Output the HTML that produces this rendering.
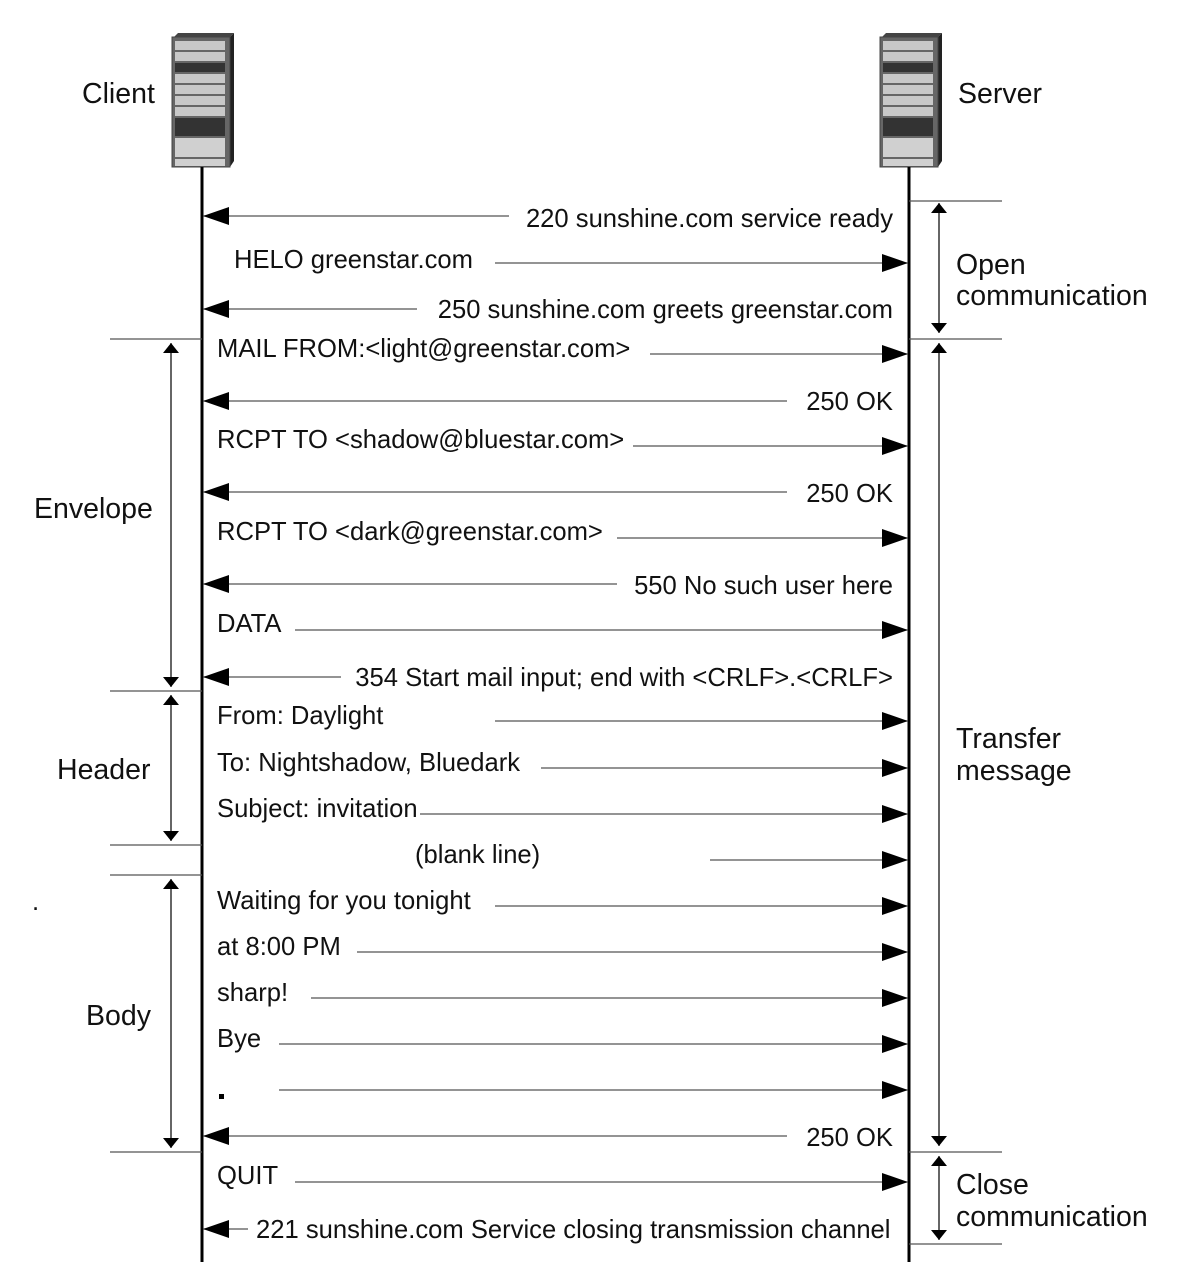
<!DOCTYPE html>
<html><head><meta charset="utf-8"><style>
html,body{margin:0;padding:0;background:#fff;}
svg{display:block;}
text{font-family:"Liberation Sans",Arial,sans-serif;fill:#111;}
.m{font-size:25.6px;}
.l{font-size:28.5px;}
</style></head><body>
<svg width="1184" height="1276" viewBox="0 0 1184 1276" xmlns="http://www.w3.org/2000/svg">
<defs>
<g id="srv">
<polygon points="0,6 6,0 62,0 58,4" fill="#444"/>
<polygon points="58,4 62,0 62,128 58,134" fill="#222"/>
<rect x="0" y="4" width="58" height="130" fill="#666" stroke="#444"/>
<rect x="3" y="8" width="50" height="9" fill="#c8c8c8"/>
<rect x="3" y="19" width="50" height="9" fill="#c8c8c8"/>
<rect x="3" y="30" width="50" height="9" fill="#333"/>
<rect x="3" y="41" width="50" height="9" fill="#c8c8c8"/>
<rect x="3" y="52" width="50" height="9" fill="#c8c8c8"/>
<rect x="3" y="63" width="50" height="9" fill="#c8c8c8"/>
<rect x="3" y="74" width="50" height="9" fill="#c8c8c8"/>
<rect x="3" y="85" width="50" height="18" fill="#333"/>
<rect x="3" y="105" width="50" height="19" fill="#d0d0d0"/>
<rect x="3" y="126" width="50" height="7" fill="#d0d0d0"/>
</g>
<marker id="a" viewBox="0 0 26 18" markerWidth="26" markerHeight="18" refX="26" refY="9" orient="auto" markerUnits="userSpaceOnUse"><path d="M0,0 L26,9 L0,18 Z" fill="#000"/></marker>
<marker id="s" viewBox="0 0 10 16" markerWidth="10" markerHeight="16" refX="10" refY="8" orient="auto-start-reverse" markerUnits="userSpaceOnUse"><path d="M0,0 L10,8 L0,16 Z" fill="#000"/></marker>
</defs>
<use href="#srv" x="172" y="33"/>
<use href="#srv" x="880" y="33"/>
<line x1="202" y1="167" x2="202" y2="1262" stroke="#000" stroke-width="3"/>
<line x1="909" y1="167" x2="909" y2="1262" stroke="#000" stroke-width="3"/>
<text class="l" x="82" y="103">Client</text>
<text class="l" x="958" y="103">Server</text>
<text class="l" x="956" y="274">Open</text><text class="l" x="956" y="305">communication</text>
<text class="l" x="956" y="748">Transfer</text><text class="l" x="956" y="780">message</text>
<text class="l" x="956" y="1194">Close</text><text class="l" x="956" y="1226">communication</text>
<text class="l" x="34" y="518">Envelope</text>
<text class="l" x="57" y="779">Header</text>
<text class="l" x="86" y="1025">Body</text>
<text class="m" x="32" y="910">.</text>
<g stroke="#555" stroke-width="1.2">
<line x1="909" y1="201" x2="1002" y2="201"/><line x1="909" y1="339" x2="1002" y2="339"/>
<line x1="909" y1="1152" x2="1002" y2="1152"/><line x1="909" y1="1244" x2="1002" y2="1244"/>
<line x1="110" y1="339" x2="202" y2="339"/><line x1="110" y1="691" x2="202" y2="691"/>
<line x1="110" y1="845" x2="202" y2="845"/><line x1="110" y1="875" x2="202" y2="875"/>
<line x1="110" y1="1152" x2="202" y2="1152"/>
</g>
<g stroke="#000" stroke-width="1.2" marker-start="url(#s)" marker-end="url(#s)">
<line x1="939" y1="203" x2="939" y2="333"/><line x1="939" y1="343" x2="939" y2="1146"/>
<line x1="939" y1="1156" x2="939" y2="1240"/>
<line x1="171" y1="343" x2="171" y2="687"/><line x1="171" y1="695" x2="171" y2="841"/>
<line x1="171" y1="879" x2="171" y2="1148"/>
</g>
<g stroke="#555" stroke-width="1.2" marker-end="url(#a)">
<line x1="509" y1="216" x2="203" y2="216"/>
<line x1="495" y1="263" x2="908" y2="263"/>
<line x1="417" y1="309" x2="203" y2="309"/>
<line x1="650" y1="354" x2="908" y2="354"/>
<line x1="787" y1="401" x2="203" y2="401"/>
<line x1="633" y1="446" x2="908" y2="446"/>
<line x1="787" y1="492" x2="203" y2="492"/>
<line x1="617" y1="538" x2="908" y2="538"/>
<line x1="617" y1="584" x2="203" y2="584"/>
<line x1="295" y1="630" x2="908" y2="630"/>
<line x1="341" y1="677" x2="203" y2="677"/>
<line x1="495" y1="721" x2="908" y2="721"/>
<line x1="541" y1="768" x2="908" y2="768"/>
<line x1="420" y1="814" x2="908" y2="814"/>
<line x1="710" y1="860" x2="908" y2="860"/>
<line x1="495" y1="906" x2="908" y2="906"/>
<line x1="357" y1="952" x2="908" y2="952"/>
<line x1="311" y1="998" x2="908" y2="998"/>
<line x1="279" y1="1044" x2="908" y2="1044"/>
<line x1="279" y1="1090" x2="908" y2="1090"/>
<line x1="787" y1="1136" x2="203" y2="1136"/>
<line x1="295" y1="1182" x2="908" y2="1182"/>
<line x1="248" y1="1229" x2="203" y2="1229"/>
</g>
<g>
<text class="m" x="893" y="227" text-anchor="end">220 sunshine.com service ready</text>
<text class="m" x="234" y="268">HELO greenstar.com</text>
<text class="m" x="893" y="318" text-anchor="end">250 sunshine.com greets greenstar.com</text>
<text class="m" x="217" y="357">MAIL FROM:&lt;light@greenstar.com&gt;</text>
<text class="m" x="893" y="410" text-anchor="end">250 OK</text>
<text class="m" x="217" y="448">RCPT TO &lt;shadow@bluestar.com&gt;</text>
<text class="m" x="893" y="502" text-anchor="end">250 OK</text>
<text class="m" x="217" y="540">RCPT TO &lt;dark@greenstar.com&gt;</text>
<text class="m" x="893" y="594" text-anchor="end">550 No such user here</text>
<text class="m" x="217" y="632">DATA</text>
<text class="m" x="893" y="686" text-anchor="end">354 Start mail input; end with &lt;CRLF&gt;.&lt;CRLF&gt;</text>
<text class="m" x="217" y="724">From: Daylight</text>
<text class="m" x="217" y="771">To: Nightshadow, Bluedark</text>
<text class="m" x="217" y="817">Subject: invitation</text>
<text class="m" x="415" y="863">(blank line)</text>
<text class="m" x="217" y="909">Waiting for you tonight</text>
<text class="m" x="217" y="955">at 8:00 PM</text>
<text class="m" x="217" y="1001">sharp!</text>
<text class="m" x="217" y="1047">Bye</text>
<rect x="219" y="1094" width="5" height="5" fill="#000"/>
<text class="m" x="893" y="1146" text-anchor="end">250 OK</text>
<text class="m" x="217" y="1184">QUIT</text>
<text class="m" x="256" y="1238">221 sunshine.com Service closing transmission channel</text>
</g>
</svg>
</body></html>
